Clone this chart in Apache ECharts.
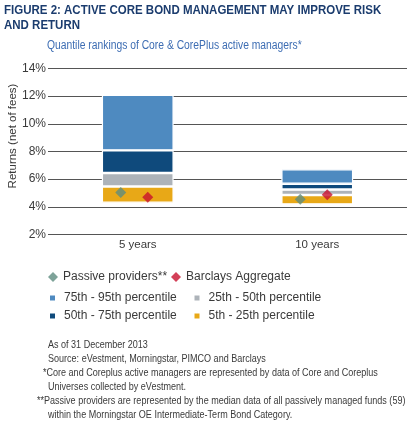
<!DOCTYPE html>
<html lang="en">
<head>
    <meta charset="UTF-8">
    <title>Active core bond management</title>
    <style>
        html, body { margin: 0; padding: 0; background: #fff; }
        #chart { width: 413px; height: 426px; }
    </style>
</head>
<body>
<div id="chart"></div>
<script src="https://cdn.jsdelivr.net/npm/echarts@6/dist/echarts.min.js"></script>
<script>
    // horizons on the x axis
    var periods = ['5 years', '10 years'];
    // percentile boundaries of active manager returns (%)
    var pct5 = [4.29, 4.18];
    var pct25 = [5.47, 4.86];
    var pct50 = [6.45, 5.25];
    var pct75 = [8.08, 5.67];
    var pct95 = [12.1, 6.72];
    // markers
    var passive = [5.04, 4.54];
    var barclays = [4.70, 4.88];
    var yTicks = [2, 4, 6, 8, 10, 12, 14];

    var FONT = "'Liberation Sans', Arial, sans-serif";
    var TEXT = '#3a3a3a';

    function diff(hi, lo) {
        return hi.map(function (v, i) { return +(v - lo[i]).toFixed(2); });
    }

    var chart = echarts.init(document.getElementById('chart'));

    var bandColors = {
        '5th - 25th percentile': '#E8A817',
        '25th - 50th percentile': '#ADB3B9',
        '50th - 75th percentile': '#0F4A7C',
        '75th - 95th percentile': '#4E8AC0'
    };

    function band(name, data) {
        return {
            name: name,
            type: 'bar',
            stack: 'q',
            barWidth: '40%',
            data: data,
            itemStyle: { color: bandColors[name], borderColor: '#fff', borderWidth: 1.2 },
            emphasis: { disabled: true }
        };
    }

    function legendAt(name, left, top, icon) {
        var dia = icon === 'diamond';
        return {
            data: [name],
            left: left,
            top: top,
            icon: icon,
            itemWidth: dia ? 10 : 7,
            itemHeight: dia ? 10 : 7,
            itemGap: 0,
            selectedMode: false,
            textStyle: { fontFamily: FONT, fontSize: 12, color: TEXT, padding: [0, 0, 0, dia ? 0 : 3] },
            padding: 0
        };
    }

    // condensed-looking text: [text, x, y, size, weight, color, scaleX]
    var texts = [
        ['FIGURE 2: ACTIVE CORE BOND MANAGEMENT MAY IMPROVE RISK', 4, 4, 12.5, 'bold', '#1B3C6E', 0.92],
        ['AND RETURN', 4, 19.5, 12.5, 'bold', '#1B3C6E', 0.92],
        ['Quantile rankings of Core & CorePlus active managers*', 47, 40, 12, 'normal', '#3D6DB3', 0.86],
        ['As of 31 December 2013', 48, 340, 10.5, 'normal', TEXT, 0.86],
        ['Source: eVestment, Morningstar, PIMCO and Barclays', 48, 354, 10.5, 'normal', TEXT, 0.86],
        ['*Core and Coreplus active managers are represented by data of Core and Coreplus', 43, 368, 10.5, 'normal', TEXT, 0.86],
        ['Universes collected by eVestment.', 48, 382, 10.5, 'normal', TEXT, 0.86],
        ['**Passive providers are represented by the median data of all passively managed funds (59)', 37, 396, 10.5, 'normal', TEXT, 0.86],
        ['within the Morningstar OE Intermediate-Term Bond Category.', 48, 410, 10.5, 'normal', TEXT, 0.86]
    ];

    var graphics = texts.map(function (t) {
        return {
            type: 'text',
            x: t[1],
            y: t[2],
            scaleX: t[6],
            style: {
                text: t[0],
                font: t[4] + ' ' + t[3] + 'px ' + FONT,
                fill: t[5],
                textVerticalAlign: 'top'
            }
        };
    });
    // y axis title, rotated
    graphics.push({
        type: 'text',
        x: 13,
        y: 136,
        rotation: Math.PI / 2,
        style: {
            text: 'Returns (net of fees)',
            font: '11.5px ' + FONT,
            fill: TEXT,
            textAlign: 'center',
            textVerticalAlign: 'middle'
        }
    });

    var option = {
        animation: false,
        textStyle: { fontFamily: FONT },
        legend: [
            legendAt('Passive providers**', 48, 271, 'diamond'),
            legendAt('Barclays Aggregate', 171, 271, 'diamond'),
            legendAt('75th - 95th percentile', 48, 292, 'rect'),
            legendAt('25th - 50th percentile', 192.5, 292, 'rect'),
            legendAt('50th - 75th percentile', 48, 310, 'rect'),
            legendAt('5th - 25th percentile', 192.5, 310, 'rect')
        ],
        grid: { left: 48, right: 6, top: 68.5, bottom: 191.5, outerBoundsMode: 'none' },
        xAxis: {
            type: 'category',
            data: periods,
            axisLine: { show: false },
            axisTick: { show: false },
            axisLabel: { fontFamily: FONT, fontSize: 11.5, color: TEXT, margin: 4 }
        },
        yAxis: {
            type: 'value',
            min: yTicks[0],
            max: yTicks[yTicks.length - 1],
            interval: 2,
            axisLabel: { formatter: '{value}%', fontFamily: FONT, fontSize: 12, color: TEXT, margin: 2 },
            splitLine: { lineStyle: { color: '#555', width: 1.2 } }
        },
        series: [
            {
                type: 'bar',
                stack: 'q',
                barWidth: '40%',
                data: pct5,
                itemStyle: { color: 'transparent' },
                silent: true
            },
            band('5th - 25th percentile', diff(pct25, pct5)),
            band('25th - 50th percentile', diff(pct50, pct25)),
            band('50th - 75th percentile', diff(pct75, pct50)),
            band('75th - 95th percentile', diff(pct95, pct75)),
            {
                name: 'Passive providers**',
                type: 'scatter',
                data: passive,
                symbol: 'diamond',
                symbolSize: 11,
                symbolOffset: [-17, 0],
                itemStyle: { color: '#5E8C7F' },
                z: 5
            },
            {
                name: 'Barclays Aggregate',
                type: 'scatter',
                data: barclays,
                symbol: 'diamond',
                symbolSize: 11,
                symbolOffset: [10, 0],
                itemStyle: { color: '#C8102E' },
                z: 5
            }
        ],
        graphic: graphics
    };

    chart.setOption(option);
</script>
</body>
</html>
